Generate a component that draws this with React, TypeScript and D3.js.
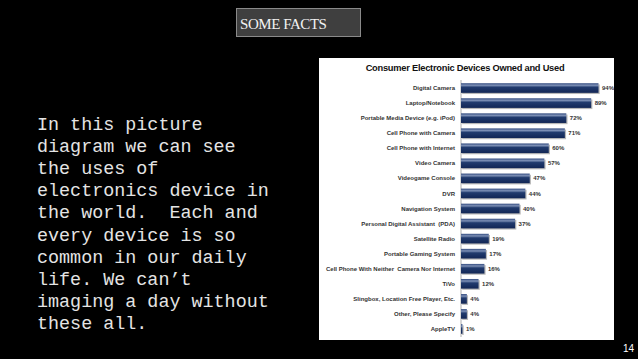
import React from 'react';
import * as d3 from 'd3';

const devices = [
  'Digital Camera',
  'Laptop/Notebook',
  'Portable Media Device (e.g. iPod)',
  'Cell Phone with Camera',
  'Cell Phone with Internet',
  'Video Camera',
  'Videogame Console',
  'DVR',
  'Navigation System',
  'Personal Digital Assistant  (PDA)',
  'Satellite Radio',
  'Portable Gaming System',
  'Cell Phone With Neither  Camera Nor Internet',
  'TiVo',
  'Slingbox, Location Free Player, Etc.',
  'Other, Please Specify',
  'AppleTV',
];
const shares = [94, 89, 72, 71, 60, 57, 47, 44, 40, 37, 19, 17, 16, 12, 4, 4, 1];

const bodyLines = [
  'In this picture',
  'diagram we can see',
  'the uses of',
  'electronics device in',
  'the world.  Each and',
  'every device is so',
  'common in our daily',
  'life. We can\u2019t',
  'imaging a day without',
  'these all.',
];

const W = 638;
const H = 359;

export default function App() {
  // chart panel (white screenshot area)
  const panel = { x: 319, y: 58, w: 295, h: 282 };
  const axisX = 461;

  const x = d3.scaleLinear().domain([0, 94]).range([axisX, 598.5]);
  const y = d3.scaleBand<string>().domain(devices).range([80.5, 336.5]).paddingInner(0.36).paddingOuter(0.18);

  const lineY = d3.scaleLinear().domain([0, bodyLines.length - 1]).range([130, 329]);

  return (
    <svg
      width={W}
      height={H}
      viewBox={`0 0 ${W} ${H}`}
      style={{ position: 'absolute', left: 0, top: 0, display: 'block' }}
    >
      <defs>
        <linearGradient id="barGrad" x1="0" y1="0" x2="0" y2="1">
          <stop offset="0%" stopColor="#344c80" />
          <stop offset="22%" stopColor="#7c8fb5" />
          <stop offset="42%" stopColor="#213b6e" />
          <stop offset="100%" stopColor="#122655" />
        </linearGradient>
      </defs>
      <rect x={0} y={0} width={W} height={H} fill="#000" />

      {/* heading box */}
      <rect x={236.5} y={8.5} width={124} height={28} fill="#3f3f3f" stroke="#8a8a8a" strokeWidth={1} />
      <text
        x={240}
        y={29}
        fill="#f2f2f2"
        fontFamily="'Liberation Serif', 'DejaVu Serif', serif"
        fontSize={15}
        letterSpacing={-0.45}
      >
        SOME FACTS
      </text>

      {/* body text */}
      {bodyLines.map((t, i) => (
        <text
          key={i}
          x={37}
          y={lineY(i)}
          fill="#e4e4e4"
          fontFamily="'Liberation Mono', 'DejaVu Sans Mono', monospace"
          fontSize={18.4}
          style={{ whiteSpace: 'pre' }}
        >
          {t}
        </text>
      ))}

      {/* chart panel */}
      <rect x={panel.x} y={panel.y} width={panel.w} height={panel.h} fill="#fff" />
      <text
        x={465}
        y={71}
        textAnchor="middle"
        fontFamily="'Liberation Sans', Arial, sans-serif"
        fontWeight="bold"
        fontSize={9.3}
        letterSpacing={-0.25}
        fill="#111"
      >
        Consumer Electronic Devices Owned and Used
      </text>

      <line x1={axisX} x2={axisX} y1={80} y2={337} stroke="#9a9a9a" strokeWidth={0.8} />

      {devices.map((d, i) => {
        const by = y(d)!;
        const bh = y.bandwidth();
        const bw = x(shares[i]) - axisX;
        return (
          <g key={d}>
            <rect x={axisX + 1.2} y={by + 1.2} width={bw} height={bh} fill="#b8b8b8" />
            <rect x={axisX} y={by} width={bw} height={bh} fill="url(#barGrad)" />
            <text
              x={455}
              y={by + bh / 2}
              dy="0.35em"
              textAnchor="end"
              fontFamily="'Liberation Sans', Arial, sans-serif"
              fontWeight="bold"
              fontSize={6}
              fill="#333"
              style={{ whiteSpace: 'pre' }}
            >
              {d}
            </text>
            <text
              x={x(shares[i]) + 3.5}
              y={by + bh / 2}
              dy="0.35em"
              fontFamily="'Liberation Sans', Arial, sans-serif"
              fontWeight="bold"
              fontSize={6}
              fill="#333"
            >
              {shares[i]}%
            </text>
          </g>
        );
      })}

      <text x={634} y={352} textAnchor="end" fill="#fff" fontFamily="'Liberation Sans', Arial, sans-serif" fontSize={10}>
        14
      </text>
    </svg>
  );
}
